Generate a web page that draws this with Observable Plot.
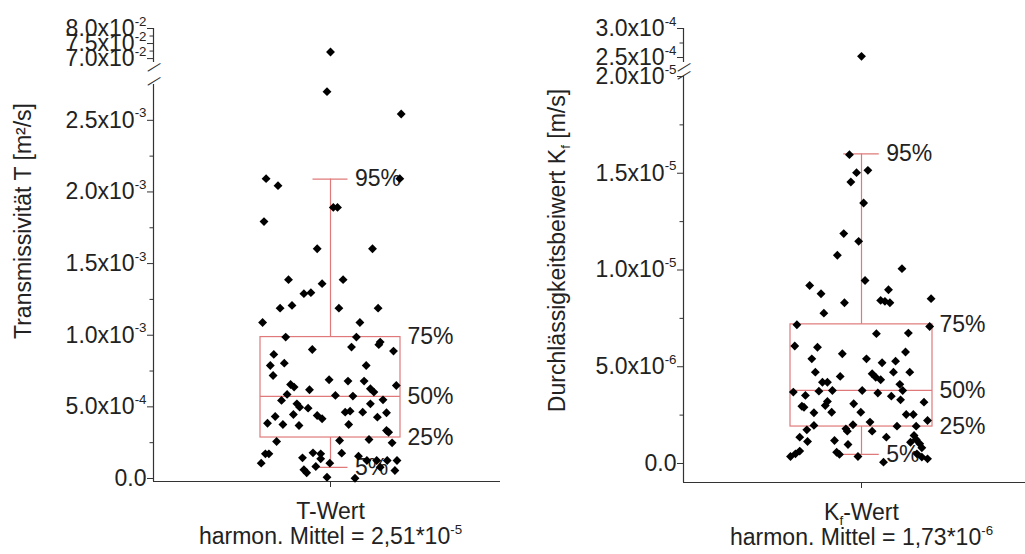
<!DOCTYPE html>
<html><head><meta charset="utf-8">
<script src="https://cdn.jsdelivr.net/npm/d3@7"></script>
<script src="https://cdn.jsdelivr.net/npm/@observablehq/plot@0.6"></script>
<style>
html,body{margin:0;padding:0;background:#fff;}
#wrap{display:flex;width:1025px;height:554px;overflow:hidden;}
#wrap svg{display:block;flex:none;}
</style></head><body><div id="wrap"></div>
<script>
// ---------------- data ----------------
const tJitter = [0.00,-0.05,1.01,-0.92,-0.75,0.99,0.04,0.10,-0.95,-0.19,0.60,-0.60,0.18,-0.12,-0.38,-0.28,-0.72,-0.55,0.12,0.68,
  -0.97,0.42,-0.64,0.37,0.69,0.71,-0.26,0.30,0.90,-0.81,-0.86,-0.66,0.51,-0.82,-0.02,0.25,0.48,0.94,-0.57,-0.52,
  -0.30,0.57,0.62,-0.62,0.07,0.32,-0.70,0.75,-0.48,0.57,-0.44,-0.32,0.21,0.46,0.80,-0.53,0.28,-0.79,-0.19,-0.12,
  0.67,-0.90,-0.68,-0.45,0.26,0.80,0.83,-0.77,0.13,0.55,0.88,-0.93,-0.88,-0.99,-0.40,-0.25,-0.14,0.16,-0.14,-0.21,
  -0.01,0.40,0.52,0.66,0.81,0.95,0.71,-0.38,-0.34,-0.05,0.35,0.92];
const tValues = [7.22e-2,2.70e-3,2.544e-3,2.093e-3,2.044e-3,2.093e-3,1.892e-3,1.892e-3,1.793e-3,1.604e-3,1.604e-3,1.388e-3,1.388e-3,1.36e-3,1.29e-3,1.297e-3,1.189e-3,1.208e-3,1.189e-3,1.189e-3,
  1.089e-3,1.089e-3,9.87e-4,9.87e-4,9.34e-4,9.52e-4,9.0e-4,9.17e-4,8.89e-4,8.66e-4,7.89e-4,8.05e-4,7.89e-4,7.19e-4,6.89e-4,6.8e-4,6.8e-4,6.49e-4,6.56e-4,6.38e-4,
  6.19e-4,6.26e-4,6.03e-4,5.87e-4,5.8e-4,5.75e-4,5.45e-4,5.49e-4,5.21e-4,5.21e-4,4.98e-4,4.91e-4,4.63e-4,4.63e-4,4.59e-4,4.47e-4,4.70e-4,4.33e-4,4.40e-4,4.17e-4,
  4.28e-4,3.86e-4,3.77e-4,3.70e-4,3.77e-4,3.35e-4,3.23e-4,2.58e-4,2.65e-4,2.72e-4,2.49e-4,1.72e-4,1.72e-4,1.07e-4,1.44e-4,1.79e-4,1.72e-4,1.77e-4,1.37e-4,8.4e-5,
  1.07e-4,1.56e-4,1.26e-4,1.26e-4,1.26e-4,1.26e-4,7.9e-5,6.1e-5,4.0e-5,9e-6,2e-6,5.6e-5];
const tPercentiles = [7.7e-5, 2.86e-4, 5.73e-4, 9.87e-4, 2.09e-3];

const kJitter = [0.00,-0.17,-0.07,0.09,-0.15,0.03,-0.25,-0.04,-0.34,0.57,-0.73,0.05,-0.57,0.38,-0.24,0.27,0.33,0.40,0.98,-0.53,
  -0.91,0.96,0.21,0.66,-0.94,-0.62,-0.27,0.62,-0.70,0.07,0.29,0.48,-0.65,-0.30,0.15,0.20,0.27,0.45,0.68,-0.55,
  -0.48,0.54,-0.96,-0.60,-0.41,0.01,0.23,0.58,-0.79,0.42,0.55,-0.48,-0.51,0.88,-0.84,-0.81,-0.11,-0.67,-0.42,-0.01,
  0.63,0.73,0.12,0.15,-0.12,-0.67,-0.77,-0.22,-0.20,0.50,0.77,0.93,-0.87,-0.76,-0.38,-0.19,0.35,0.74,0.77,0.82,
  0.85,-1.00,-0.93,-0.87,-0.35,-0.31,-0.05,0.31,0.78,0.85,0.93,0.69];
const kValues = [2.52e-4,1.596e-5,1.503e-5,1.515e-5,1.455e-5,1.346e-5,1.188e-5,1.148e-5,1.076e-5,1.007e-5,9.2e-6,9.46e-6,8.77e-6,8.98e-6,8.31e-6,8.43e-6,8.38e-6,8.31e-6,8.52e-6,7.77e-6,
  7.17e-6,7.08e-6,6.71e-6,6.74e-6,6.07e-6,6.01e-6,5.67e-6,5.76e-6,5.41e-6,5.41e-6,5.21e-6,5.29e-6,4.72e-6,4.5e-6,4.64e-6,4.46e-6,4.33e-6,4.72e-6,4.72e-6,4.2e-6,
  4.2e-6,4.09e-6,3.69e-6,3.74e-6,3.77e-6,3.77e-6,3.64e-6,3.77e-6,3.52e-6,3.48e-6,3.29e-6,3.21e-6,3.0e-6,3.17e-6,2.96e-6,2.91e-6,3.09e-6,2.62e-6,2.65e-6,2.65e-6,
  2.53e-6,2.53e-6,2.14e-6,1.67e-6,2.0e-6,1.97e-6,1.74e-6,1.79e-6,1.67e-6,1.93e-6,1.93e-6,2.22e-6,1.36e-6,1.14e-6,1.19e-6,9.8e-7,1.36e-6,1.45e-6,1.24e-6,1.02e-6,
  8.1e-7,3.6e-7,5.0e-7,6.4e-7,5.8e-7,4.7e-7,3.6e-7,7e-8,5.0e-7,3.3e-7,2.4e-7,1.1e-6];
const kPercentiles = [4.7e-7, 1.91e-6, 3.78e-6, 7.19e-6, 1.6e-5];

const percentileLabels = ["5%", "25%", "50%", "75%", "95%"];

const tTicksMajor = [0, 5e-4, 1e-3, 1.5e-3, 2e-3, 2.5e-3, 7e-2, 7.5e-2, 8e-2];
const tTicksMinor = [2.5e-4, 7.5e-4, 1.25e-3, 1.75e-3, 2.25e-3, 7.25e-2, 7.75e-2];
const kTicksMajor = [0, 5e-6, 1e-5, 1.5e-5, 2e-5, 2.5e-4, 3e-4];
const kTicksMinor = [2.5e-6, 7.5e-6, 1.25e-5, 1.75e-5, 2.75e-4];

const tCategory = "T-Wert";
const kCategory = "K_{f}-Wert";
const tMean = "harmon. Mittel = 2,51*10^{-5}";
const kMean = "harmon. Mittel = 1,73*10^{-6}";
const tTitle = "Transmissivität T [m²/s]";
const kTitle = "Durchlässigkeitsbeiwert K_{f} [m/s]";

// ---------------- drawing ----------------
const FONT = '"Liberation Sans", Arial, Helvetica, sans-serif';
const BOX = "#e07a7a";
const AX = "#333";
const boxHalf = 1, capHalf = 0.25;

function fmt(v) {
  if (v === 0) return "0.0";
  const e = Math.floor(Math.log10(v) + 1e-9);
  const m = v / Math.pow(10, e);
  return m.toFixed(1) + "x10^{" + e + "}";
}

function panel(c) {
  const stats = c.stats;
  const labelRows = percentileLabels.map((l, i) => ({
    label: l, v: stats[i], x: (i === 0 || i === 4) ? capHalf : boxHalf
  }));
  const yd = c.yDomain, xd = c.xDomain;
  return Plot.plot({
    width: c.width, height: 554,
    marginLeft: c.marginLeft, marginRight: c.marginRight,
    marginTop: c.yRange[3], marginBottom: 554 - c.yRange[0],
    style: {fontFamily: FONT, fontSize: "22px", color: "#222", background: "white", overflow: "visible"},
    x: {type: "linear", domain: xd},
    y: {type: "linear", domain: yd, range: c.yRange},
    marks: [
      // axis lines (broken y axis)
      Plot.ruleY([yd[0]], {stroke: AX, strokeWidth: 1.2}),
      Plot.ruleX([xd[0]], {y1: yd[0], y2: yd[1], stroke: AX, strokeWidth: 1.2}),
      Plot.ruleX([xd[0]], {y1: yd[2], y2: yd[3], stroke: AX, strokeWidth: 1.2}),
      Plot.text(["—"], {x: xd[0], y: yd[1], dy: c.breakDy[0], rotate: -32, fontSize: 15, fill: AX}),
      Plot.text(["—"], {x: xd[0], y: yd[2], dy: c.breakDy[1], rotate: -32, fontSize: 15, fill: AX}),
      Plot.axisY(c.major, {anchor: "left", tickSize: 6, tickPadding: 1, tickFormat: fmt, label: null, fontSize: 23, stroke: AX}),
      Plot.axisY(c.minor, {anchor: "left", tickSize: 3.5, tickFormat: () => "", label: null, stroke: AX}),
      Plot.axisX([0], {anchor: "bottom", tickSize: 6, tickFormat: () => "", label: null, stroke: AX}),
      // box
      Plot.rect([stats], {x1: -boxHalf, x2: boxHalf, y1: d => d[1], y2: d => d[3], stroke: BOX, fill: "none", strokeWidth: 1.2}),
      Plot.ruleY([stats[2]], {x1: -boxHalf, x2: boxHalf, stroke: BOX, strokeWidth: 1.2}),
      Plot.ruleX([0], {y1: stats[3], y2: stats[4], stroke: BOX, strokeWidth: 1.2}),
      Plot.ruleX([0], {y1: stats[0], y2: stats[1], stroke: BOX, strokeWidth: 1.2}),
      Plot.ruleY([stats[0], stats[4]], {x1: -capHalf, x2: capHalf, stroke: BOX, strokeWidth: 1.2}),
      Plot.text(labelRows, {x: "x", y: "v", text: "label", textAnchor: "start", dx: 7, fontSize: 23, fill: "#222"}),
      // points
      Plot.dot(c.values, {x: c.jitter, y: c.values, symbol: "diamond2", r: 4, fill: "#000", stroke: "none"}),
      // texts
      Plot.text([c.category], {x: 0, frameAnchor: "bottom", lineAnchor: "middle", textAnchor: "middle", dy: 30, fontSize: 23, fill: "#222"}),
      Plot.text([c.mean], {x: 0, frameAnchor: "bottom", lineAnchor: "middle", textAnchor: "middle", dy: 55, fontSize: 23, fill: "#222"}),
      Plot.text([c.title], {frameAnchor: "left", textAnchor: "middle", lineAnchor: "middle", rotate: -90, dx: c.titleDx, dy: c.titleDy, fontSize: 23, fill: "#222"})
    ]
  });
}

function richText(svg) {
  svg.querySelectorAll("text").forEach(t => {
    const els = t.querySelector("tspan") ? [...t.querySelectorAll("tspan")] : [t];
    els.forEach(el => {
      const s = el.textContent;
      if (!/[\^_]\{/.test(s)) return;
      const fs = parseFloat(getComputedStyle(el).fontSize) || 22;
      const parts = [];
      const re = /([\^_])\{([^}]*)\}/g;
      let last = 0, m;
      while ((m = re.exec(s))) {
        if (m.index > last) parts.push({k: "n", s: s.slice(last, m.index)});
        parts.push({k: m[1] === "^" ? "sup" : "sub", s: m[2]});
        last = re.lastIndex;
      }
      if (last < s.length) parts.push({k: "n", s: s.slice(last)});
      el.textContent = "";
      let off = 0;
      for (const p of parts) {
        const ts = document.createElementNS("http://www.w3.org/2000/svg", "tspan");
        const target = p.k === "sup" ? -0.45 * fs : p.k === "sub" ? 0.22 * fs : 0;
        const d = target - off;
        if (d) ts.setAttribute("dy", d.toFixed(2));
        off = target;
        if (p.k !== "n") ts.setAttribute("font-size", (0.58 * fs).toFixed(1));
        ts.textContent = p.s;
        el.appendChild(ts);
      }
    });
  });
}

const wrap = document.getElementById("wrap");
const left = panel({
  width: 512, marginLeft: 153, marginRight: 12,
  xDomain: [-177 / 70, 170 / 70],
  yDomain: [-2.1e-5, 2.75e-3, 6.87e-2, 8.0e-2], yRange: [481, 84, 62, 28],
  breakDy: [-4, 4],
  major: tTicksMajor, minor: tTicksMinor, stats: tPercentiles,
  jitter: tJitter, values: tValues,
  category: tCategory, mean: tMean, title: tTitle, titleDx: -130, titleDy: -34
});
const right = panel({
  width: 513, marginLeft: 171, marginRight: 0,
  xDomain: [-178 / 71, 164 / 71],
  yDomain: [-9.82e-7, 2.0e-5, 2.414e-4, 3.0e-4], yRange: [482, 76, 62, 28],
  breakDy: [-2, 4],
  major: kTicksMajor, minor: kTicksMinor, stats: kPercentiles,
  jitter: kJitter, values: kValues,
  category: kCategory, mean: kMean, title: kTitle, titleDx: -126, titleDy: -5
});
wrap.appendChild(left);
wrap.appendChild(right);
richText(left);
richText(right);
</script>
</body></html>
